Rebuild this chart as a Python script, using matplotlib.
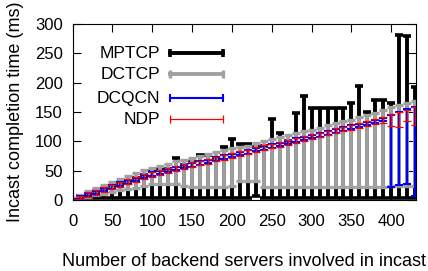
import matplotlib
matplotlib.use('Agg')
import matplotlib.pyplot as plt

plt.rcParams['font.family'] = ['Liberation Sans', 'DejaVu Sans']
plt.rcParams['font.size'] = 12

# number of backend servers (x) and min/max completion time per protocol (ms)
servers = [0, 10, 20, 30, 40, 50, 60, 70, 80, 90, 100, 110, 120, 130, 140,
           150, 160, 170, 180, 190, 200, 210, 220, 230, 240, 250, 260, 270,
           280, 290, 300, 310, 320, 330, 340, 350, 360, 370, 380, 390, 400,
           410, 420, 430]

mptcp_lo = [0, 3, 3, 3, 3, 3, 3, 3, 3, 3, 3, 3, 3, 3, 3, 3, 3, 3, 3, 3, 3,
            3, 3, 6, 3, 3, 3, 3, 3, 3, 3, 3, 3, 3, 3, 3, 3, 3, 3, 3, 3, 3, 3, 3]
mptcp_hi = [2, 6, 11, 15, 19, 24, 29, 33, 38, 42, 50, 53, 52, 71, 60, 64, 76,
            77, 72, 91, 104, 96, 95, 90, 92, 138, 115, 101, 148, 177, 156, 156,
            156, 156, 157, 166, 194, 150, 170, 170, 166, 281, 280, 192]

dctcp_lo = [0, 2, 5, 8, 11, 14, 17, 19, 21, 24, 27, 28, 28, 27, 24, 23, 23,
            23, 23, 23, 24, 32, 33, 32, 23, 23, 23, 23, 23, 23, 23, 23, 23, 23,
            23, 23, 23, 23, 23, 23, 24, 24, 24, 24]
dctcp_hi = [3, 9, 15, 20, 25, 30, 36, 41, 46, 51, 55, 58, 62, 66, 69, 72, 75,
            78, 82, 85, 88, 91, 92, 98, 101, 104, 107, 110, 114, 117, 120, 123,
            127, 131, 134, 137, 141, 145, 149, 153, 158, 162, 166, 168]

dcqcn_lo = [0, 2, 6, 10, 15, 19, 24, 28, 32, 37, 41, 44, 47, 51, 54, 57, 60,
            63, 67, 70, 73, 76, 79, 83, 86, 89, 92, 95, 99, 102, 105, 108, 111,
            115, 118, 121, 124, 127, 131, 134, 23, 25, 28, 6]
dcqcn_hi = [2, 6, 12, 16, 21, 25, 30, 34, 38, 43, 47, 50, 53, 57, 60, 63, 66,
            69, 73, 76, 79, 82, 85, 89, 92, 95, 98, 101, 105, 108, 111, 114,
            117, 121, 124, 127, 130, 133, 137, 140, 145, 150, 155, 158]

ndp_lo = [0, 1, 5, 9, 14, 18, 23, 27, 31, 36, 40, 43, 46, 50, 53, 56, 59, 62,
          66, 69, 72, 75, 78, 82, 85, 88, 91, 94, 98, 101, 104, 107, 110, 114,
          117, 120, 123, 126, 130, 132, 126, 125, 135, 127]
ndp_hi = [2, 7, 13, 17, 22, 26, 31, 35, 39, 44, 48, 51, 54, 58, 61, 64, 67,
          70, 74, 77, 80, 83, 86, 90, 93, 96, 99, 102, 106, 109, 112, 115, 118,
          122, 125, 128, 131, 134, 138, 142, 147, 150, 153, 158]

# name, low, high, colour, line width, cap half-length, cap thickness
series = [
    ('MPTCP', mptcp_lo, mptcp_hi, 'black', 2.8, 3.0, 2.6),
    ('DCTCP', dctcp_lo, dctcp_hi, '#a0a0a0', 2.8, 3.0, 2.4),
    ('DCQCN', dcqcn_lo, dcqcn_hi, '#0000ff', 1.5, 3.0, 1.5),
    ('NDP', ndp_lo, ndp_hi, '#ff0000', 0.9, 3.0, 0.9),
]

fig = plt.figure(figsize=(4.28, 2.71), dpi=100)
ax = fig.add_axes([0.1694, 0.262, 0.8026, 0.6494])

for name, lo, hi, col, lw, cs, ct in series:
    mid = [(a + b) / 2 for a, b in zip(lo, hi)]
    err = [[m - a for m, a in zip(mid, lo)], [b - m for m, b in zip(mid, hi)]]
    ax.errorbar(servers, mid, yerr=err, fmt='none', ecolor=col,
                elinewidth=lw, capsize=cs, capthick=ct)

# gnuplot style key: right aligned text, horizontal bar with end caps
key_y = [0.834, 0.714, 0.578, 0.459]
for (name, lo, hi, col, lw, cs, ct), ky in zip(series, key_y):
    ax.text(0.255, ky, name, transform=ax.transAxes, ha='right',
            va='center', fontsize=12.5)
    ax.plot([0.284, 0.438], [ky, ky], transform=ax.transAxes, color=col,
            lw=lw, marker='|', markersize=5.5, markeredgewidth=ct,
            clip_on=False)

ax.set_xlim(0, 431)
ax.set_ylim(0, 300)
ax.set_xticks([0, 50, 100, 150, 200, 250, 300, 350, 400])
ax.set_yticks([0, 50, 100, 150, 200, 250, 300])
ax.tick_params(direction='in', length=6, width=0.8, top=True, right=True)
ax.tick_params(axis='x', pad=10)
ax.tick_params(axis='y', pad=7)
for sp in ax.spines.values():
    sp.set_linewidth(0.8)

ax.set_xlabel('Number of backend servers involved in incast', fontsize=13)
ax.set_ylabel('Incast completion time (ms)', fontsize=13)
ax.xaxis.set_label_coords(0.5, -0.30)
ax.yaxis.set_label_coords(-0.14, 0.5)

fig.savefig('out.png', dpi=100)
